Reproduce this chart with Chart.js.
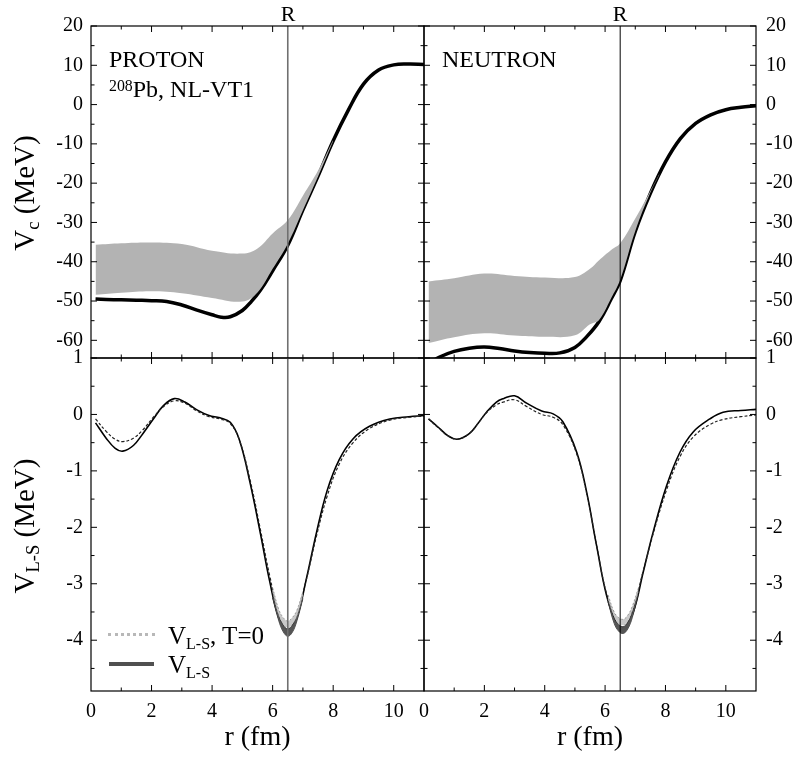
<!DOCTYPE html>
<html>
<head>
<meta charset="utf-8">
<script src="https://cdn.jsdelivr.net/npm/chart.js@4.4.1/dist/chart.umd.min.js"></script>
<style>
  body { margin: 0; background: #fff; }
  #wrap { position: relative; width: 798px; height: 757px; font-family: 'Liberation Serif', 'DejaVu Serif', serif; color: #000; }
  #wrap canvas { position: absolute; left: 0; top: 0; }
  .lbl { position: absolute; white-space: nowrap; line-height: 1; }
  .ytitle { position: absolute; white-space: nowrap; line-height: 1; font-size: 29px; transform: translate(-50%, -50%) rotate(-90deg); }
  sub { font-size: 0.64em; vertical-align: -0.3em; line-height: 0; }
  sup { font-size: 0.66em; vertical-align: 0.4em; line-height: 0; }
</style>
</head>
<body>
<div id="wrap">
  <canvas id="vcP" width="798" height="757"></canvas>
  <canvas id="vcN" width="798" height="757"></canvas>
  <canvas id="lsP" width="798" height="757"></canvas>
  <canvas id="lsN" width="798" height="757"></canvas>

  <div class="lbl" style="left:288px;top:3px;font-size:22px;transform:translateX(-50%)">R</div>
  <div class="lbl" style="left:620px;top:3px;font-size:22px;transform:translateX(-50%)">R</div>
  <div class="lbl" style="left:109px;top:47px;font-size:24px">PROTON</div>
  <div class="lbl" style="left:109px;top:77px;font-size:24px"><sup>208</sup>Pb, NL-VT1</div>
  <div class="lbl" style="left:442px;top:47px;font-size:24px">NEUTRON</div>

  <div class="ytitle" style="left:24px;top:193px">V<sub>c</sub> (MeV)</div>
  <div class="ytitle" style="left:24px;top:526px">V<sub>L-S</sub> (MeV)</div>

  <div style="position:absolute;left:108px;top:633px;width:47px;height:0;border-top:3px dotted #b8b8b8"></div>
  <div style="position:absolute;left:109px;top:662px;width:45px;height:4px;background:#505050"></div>
  <div class="lbl" style="left:168px;top:623px;font-size:25px">V<sub>L-S</sub>, T=0</div>
  <div class="lbl" style="left:168px;top:652px;font-size:25px">V<sub>L-S</sub></div>
</div>
<script>
// axis ticks
const rTicks = [0, 2, 4, 6, 8, 10]
const vcTicks = [20, 10, 0, -10, -20, -30, -40, -50, -60]
const vlsTicks = [1, 0, -1, -2, -3, -4]
const radiusR = 6.5

// central potential, proton
const rVcP = [0.15, 0.5, 1, 1.5, 2, 2.5, 3, 3.5, 4, 4.3, 4.6, 5, 5.3, 5.6, 6, 6.5, 7, 7.5, 8, 8.5, 9, 9.5, 10, 10.5, 11]
const vcP = [-49.5, -49.6, -49.7, -49.8, -49.9, -50.1, -51.0, -52.3, -53.5, -54.1, -54.0, -52.4, -50.1, -47.2, -42.3, -35.8, -26.8, -18.2, -9.2, -1.4, 5.2, 8.8, 10.1, 10.3, 10.2]
const rBandVcP = [0.15, 1, 2, 3, 4, 5, 5.5, 6, 6.5, 7, 7.5, 8]
const vcPHi = [-35.7, -35.3, -35.1, -35.5, -37.2, -37.9, -36.6, -32.8, -29.4, -23.2, -16.8, -9.0]
const vcPLo = [-48.4, -47.9, -47.5, -48.0, -49.2, -50.1, -47.8, -41.8, -35.4, -26.9, -18.3, -9.3]

// central potential, neutron
const rVcN = [0.15, 0.5, 1, 1.5, 2, 2.5, 3, 3.5, 4, 4.5, 5, 5.4, 5.8, 6.2, 6.5, 7, 7.5, 8, 8.5, 9, 9.5, 10, 10.5, 11]
const vcN = [-66.0, -64.3, -62.8, -62.0, -61.7, -62.1, -62.7, -63.1, -63.3, -63.2, -61.8, -59.0, -55.2, -49.5, -44.8, -32.3, -22.6, -14.6, -8.6, -4.8, -2.6, -1.3, -0.7, -0.3]
const rBandVcN = [0.15, 1, 2, 3, 4, 5, 5.5, 5.8, 6.2, 6.5, 7, 7.5, 7.8]
const vcNHi = [-45.0, -44.2, -43.0, -43.6, -44.0, -43.9, -41.8, -39.6, -37.0, -35.3, -29.0, -22.0, -17.6]
const vcNLo = [-60.7, -59.2, -58.2, -58.8, -59.1, -58.7, -55.9, -54.8, -49.3, -44.6, -32.2, -22.4, -17.8]

// spin-orbit potential, proton
const rLsP = [0.15, 0.5, 0.8, 1.05, 1.4, 1.7, 2.06, 2.4, 2.75, 3.1, 3.5, 3.9, 4.26, 4.6, 4.9, 5.25, 5.6, 5.9, 6.2, 6.5, 6.8, 7.1, 7.45, 7.8, 8.2, 8.66, 9.2, 9.87, 10.5, 11]
const lsP = [-0.15, -0.42, -0.6, -0.65, -0.55, -0.35, -0.08, 0.16, 0.28, 0.22, 0.08, -0.02, -0.06, -0.14, -0.45, -1.2, -2.12, -2.95, -3.6, -3.87, -3.6, -2.95, -2.09, -1.35, -0.8, -0.43, -0.21, -0.08, -0.04, -0.02]
const lsP0 = [-0.08, -0.3, -0.44, -0.48, -0.42, -0.28, -0.05, 0.14, 0.24, 0.2, 0.06, -0.04, -0.08, -0.16, -0.45, -1.15, -2.05, -2.85, -3.5, -3.72, -3.52, -2.95, -2.15, -1.45, -0.88, -0.5, -0.25, -0.1, -0.05, -0.03]
const rBandLsP = [6.0, 6.2, 6.35, 6.5, 6.65, 6.8, 7.0]
const lsPHi = [-3.17, -3.55, -3.73, -3.8, -3.73, -3.55, -3.18]
const lsPLo = [-3.25, -3.65, -3.85, -3.93, -3.86, -3.66, -3.26]
const lsP0Hi = [-3.07, -3.45, -3.6, -3.66, -3.6, -3.47, -3.14]
const lsP0Lo = [-3.14, -3.55, -3.71, -3.78, -3.71, -3.57, -3.2]

// spin-orbit potential, neutron
const rLsN = [0.15, 0.5, 0.8, 1.1, 1.5, 1.8, 2.07, 2.4, 2.63, 3.0, 3.4, 3.9, 4.28, 4.6, 5.06, 5.39, 5.72, 6.05, 6.38, 6.6, 6.93, 7.26, 7.59, 8.04, 8.48, 8.92, 9.47, 9.91, 10.5, 11]
const lsN = [-0.08, -0.24, -0.38, -0.44, -0.34, -0.15, 0.04, 0.22, 0.28, 0.33, 0.2, 0.06, 0.01, -0.13, -0.67, -1.38, -2.33, -3.21, -3.72, -3.82, -3.51, -2.8, -2.09, -1.26, -0.67, -0.31, -0.08, 0.04, 0.07, 0.09]
const lsN0 = [-0.08, -0.25, -0.38, -0.44, -0.34, -0.15, 0.03, 0.17, 0.22, 0.26, 0.14, 0.0, -0.05, -0.18, -0.7, -1.4, -2.32, -3.18, -3.6, -3.68, -3.42, -2.78, -2.12, -1.33, -0.75, -0.4, -0.18, -0.09, -0.04, -0.01]
const rBandLsN = [6.1, 6.3, 6.45, 6.6, 6.75, 6.9, 7.1]
const lsNHi = [-3.26, -3.6, -3.72, -3.76, -3.68, -3.5, -3.12]
const lsNLo = [-3.32, -3.7, -3.84, -3.88, -3.8, -3.6, -3.18]
const lsN0Hi = [-3.2, -3.5, -3.6, -3.63, -3.56, -3.4, -3.08]
const lsN0Lo = [-3.27, -3.58, -3.7, -3.73, -3.66, -3.48, -3.14]

Chart.defaults.font.family = "'Liberation Serif', 'DejaVu Serif', serif"
Chart.defaults.font.size = 20
Chart.defaults.color = '#000'

function pts(rs, vs) {
    return rs.map((r, i) => ({ x: r, y: vs[i] }))
}

// box, inward ticks on all four sides and the R line
const frame = {
    id: 'frame',
    afterDatasetsDraw(chart, args, opts) {
        const { ctx, chartArea: a, scales: { x, y } } = chart
        ctx.save()
        const xr = x.getPixelForValue(radiusR)
        ctx.strokeStyle = opts.rColor
        ctx.lineWidth = opts.rWidth
        ctx.beginPath()
        ctx.moveTo(xr, a.top)
        ctx.lineTo(xr, a.bottom)
        ctx.stroke()
        ctx.strokeStyle = '#000'
        ctx.lineWidth = 1.2
        ctx.strokeRect(a.left, a.top, a.right - a.left, a.bottom - a.top)
        ctx.lineWidth = 1
        ctx.beginPath()
        for (let v = 1; v < 11; v++) {
            const px = x.getPixelForValue(v)
            const len = v % 2 === 0 ? 6 : 3.5
            ctx.moveTo(px, a.top); ctx.lineTo(px, a.top + len)
            ctx.moveTo(px, a.bottom); ctx.lineTo(px, a.bottom - len)
        }
        const step = opts.yStep / 2
        for (let v = Math.ceil(y.min / step) * step; v <= y.max; v += step) {
            const py = y.getPixelForValue(v)
            const major = Math.abs(v / opts.yStep - Math.round(v / opts.yStep)) < 1e-6
            const len = major ? 6 : 3.5
            ctx.moveTo(a.left, py); ctx.lineTo(a.left + len, py)
            ctx.moveTo(a.right, py); ctx.lineTo(a.right - len, py)
        }
        ctx.stroke()
        ctx.restore()
    }
}

function band(rs, hi, lo, fillColor, edge) {
    return [
        { data: pts(rs, hi), fill: '+1', backgroundColor: fillColor, borderColor: edge.color, borderWidth: edge.width, borderDash: edge.dash || [], clip: 0 },
        { data: pts(rs, lo), fill: false, borderColor: edge.color, borderWidth: edge.width, borderDash: edge.dash || [], clip: 0 }
    ]
}

function line(rs, vs, color, width, dash) {
    return { data: pts(rs, vs), fill: false, borderColor: color, borderWidth: width, borderDash: dash || [], clip: 0 }
}

function panel(id, o) {
    const xScale = {
        type: 'linear', min: 0, max: 11, display: o.showX,
        afterBuildTicks: s => { s.ticks = rTicks.map(v => ({ value: v })) },
        grid: { display: false, drawTicks: false },
        border: { display: false },
        ticks: { padding: 9, maxRotation: 0, autoSkip: false, color: '#000' },
        title: { display: o.showX, text: 'r (fm)', font: { size: 28 }, color: '#000', padding: { top: 0, bottom: 3 } }
    }
    if (o.showX) xScale.afterFit = s => { s.height = 66 }
    return new Chart(document.getElementById(id), {
        type: 'line',
        data: { datasets: o.datasets },
        options: {
            responsive: false,
            animation: false,
            layout: { padding: o.pad },
            elements: { point: { radius: 0 }, line: { tension: 0.4 } },
            plugins: {
                legend: { display: false },
                tooltip: { enabled: false },
                frame: { rColor: o.rColor, rWidth: o.rWidth, yStep: o.yStep }
            },
            scales: {
                x: xScale,
                y: {
                    type: 'linear', min: o.yMin, max: o.yMax, position: o.yPos,
                    afterBuildTicks: s => { s.ticks = o.yTicks.map(v => ({ value: v })) },
                    afterFit: s => { s.width = o.yWidth },
                    grid: { display: false, drawTicks: false },
                    border: { display: false },
                    ticks: { padding: o.yPos === 'left' ? 8 : 10, autoSkip: false, color: '#000' }
                }
            }
        },
        plugins: [frame]
    })
}

const bandGray = '#b3b3b3'
const noEdge = { color: 'rgba(0,0,0,0)', width: 0 }

panel('vcP', {
    pad: { left: 0, top: 26, right: 374, bottom: 399 }, showX: false,
    yPos: 'left', yWidth: 91, yMin: -64.5, yMax: 20, yTicks: vcTicks, yStep: 10,
    rColor: '#707070', rWidth: 1.6,
    datasets: [...band(rBandVcP, vcPHi, vcPLo, bandGray, noEdge), line(rVcP, vcP, '#000', 3.5)]
})

panel('vcN', {
    pad: { left: 424, top: 26, right: 0, bottom: 399 }, showX: false,
    yPos: 'right', yWidth: 42, yMin: -64.5, yMax: 20, yTicks: vcTicks, yStep: 10,
    rColor: '#000', rWidth: 1,
    datasets: [...band(rBandVcN, vcNHi, vcNLo, bandGray, noEdge), line(rVcN, vcN, '#000', 3.5)]
})

const lightEdge = { color: '#8a8a8a', width: 0.8, dash: [2, 2] }
const darkEdge = { color: '#222', width: 0.8 }

panel('lsP', {
    pad: { left: 0, top: 358, right: 374, bottom: 0 }, showX: true,
    yPos: 'left', yWidth: 91, yMin: -4.9, yMax: 1, yTicks: vlsTicks, yStep: 1,
    rColor: '#707070', rWidth: 1.6,
    datasets: [
        ...band(rBandLsP, lsP0Hi, lsP0Lo, '#c8c8c8', lightEdge),
        ...band(rBandLsP, lsPHi, lsPLo, '#555', darkEdge),
        line(rLsP, lsP0, '#222', 1.2, [3, 2]),
        line(rLsP, lsP, '#000', 1.6)
    ]
})

panel('lsN', {
    pad: { left: 424, top: 358, right: 0, bottom: 0 }, showX: true,
    yPos: 'right', yWidth: 42, yMin: -4.9, yMax: 1, yTicks: vlsTicks, yStep: 1,
    rColor: '#000', rWidth: 1,
    datasets: [
        ...band(rBandLsN, lsN0Hi, lsN0Lo, '#c8c8c8', lightEdge),
        ...band(rBandLsN, lsNHi, lsNLo, '#555', darkEdge),
        line(rLsN, lsN0, '#222', 1.2, [3, 2]),
        line(rLsN, lsN, '#000', 1.6)
    ]
})
</script>
</body>
</html>
